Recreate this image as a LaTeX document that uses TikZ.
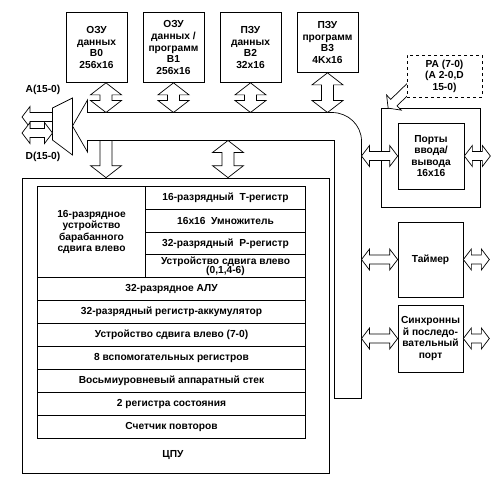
\documentclass[tikz,border=0pt]{standalone}
\usepackage{fontspec}
\setmainfont{Liberation Sans}
\usetikzlibrary{calc}
\newcommand{\blockfont}{\fontsize{10.2}{11.6}\selectfont\bfseries}
\tikzset{
  box/.style={draw,align=center,inner sep=1pt,font=\blockfont},
  cell/.style={draw,align=center,inner sep=0pt,font=\blockfont,minimum height=23},
  bigarr/.code={\def\ahl{12pt}\def\ahw{15.5pt}\def\asw{6pt}},
  smallarr/.code={\def\ahl{8pt}\def\ahw{10.5pt}\def\asw{4.5pt}},
}
% hollow bus arrow, heads at both ends
\newcommand{\dblarrow}[3][bigarr]{\draw[#1,fill=white] (#2)
	-- ($($(#2)!\ahl!(#3)$)!\ahw!90:(#3)$) -- ($($(#2)!\ahl!(#3)$)!\asw!90:(#3)$)
	-- ($($(#3)!\ahl!(#2)$)!\asw!-90:(#2)$) -- ($($(#3)!\ahl!(#2)$)!\ahw!-90:(#2)$) -- (#3)
	-- ($($(#3)!\ahl!(#2)$)!\ahw!90:(#2)$) -- ($($(#3)!\ahl!(#2)$)!\asw!90:(#2)$)
	-- ($($(#2)!\ahl!(#3)$)!\asw!-90:(#3)$) -- ($($(#2)!\ahl!(#3)$)!\ahw!-90:(#3)$) -- cycle;}
% hollow bus arrow, head at #3 only
\newcommand{\onearrow}[3][bigarr]{\draw[#1,fill=white] ($(#2)!\asw!90:(#3)$)
	-- ($($(#3)!\ahl!(#2)$)!\asw!-90:(#2)$) -- ($($(#3)!\ahl!(#2)$)!\ahw!-90:(#2)$) -- (#3)
	-- ($($(#3)!\ahl!(#2)$)!\ahw!90:(#2)$) -- ($($(#3)!\ahl!(#2)$)!\asw!90:(#2)$)
	-- ($(#2)!\asw!-90:(#3)$) -- cycle;}
\begin{document}
\begin{tikzpicture}[x=1pt,y=-1pt,line width=0.7pt]
\useasboundingbox (0,0) rectangle (500,488);

%% memory blocks on top
\node[box,minimum width=61,minimum height=70] (ram0) at (96.5,47.5) {ОЗУ\\данных\\В0\\256x16};
\node[box,minimum width=61,minimum height=70] (ram1) at (173.5,47.5) {ОЗУ\\данных /\\программ\\В1\\256x16};
\node[box,minimum width=61,minimum height=70] (rom2) at (250.5,47.5) {ПЗУ\\данных\\В2\\32x16};
\node[box,minimum width=61,minimum height=60] (rom3) at (327.5,42.5) {ПЗУ\\программ\\В3\\4Kx16};

%% internal bus
\coordinate (bustop) at (0,112.5);
\coordinate (busbot) at (0,140.5);
\coordinate (busright) at (361.5,0);
\draw (87.5,100) -- (87.5,112.5) -- (332,112.5) .. controls (348,112.5) and (361.5,125) .. (361.5,141)
	-- (361.5,398.5) -- (334.5,398.5) -- (334.5,140.5) -- (87.5,140.5) -- (87.5,152) -- (72.5,126) -- cycle;

\coordinate (m0) at ($(ram0.south)+(9.5,0)$);
\coordinate (m1) at (ram1.south);
\coordinate (m2) at (rom2.south);
\coordinate (m3) at (rom3.south);
\foreach \i in {0,...,3}{
	\coordinate (b\i) at (m\i |- bustop);
	\dblarrow{m\i}{b\i}
}

%% address / data multiplexer
\draw (52.5,108) -- (72.5,98) -- (72.5,155) -- (52.5,140) -- cycle;
\coordinate (ain) at (52.5,117);
\coordinate (aout) at (22,117);
\coordinate (din) at (52.5,133);
\coordinate (dout) at (22,133);
\onearrow[smallarr]{ain}{aout}
\dblarrow[smallarr]{din}{dout}
\node[font=\blockfont] (alabel) at (43,90) {A(15-0)};
\node[font=\blockfont] (dlabel) at (43,157) {D(15-0)};

%% CPU
\node[draw,minimum width=307,minimum height=295] (cpu) at (176,325.5) {};
\node[font=\blockfont] (cpulabel) at (173,455) {ЦПУ};
\coordinate (c0) at (m0 |- busbot);
\coordinate (c0e) at (m0 |- cpu.north);
\coordinate (c1) at (228,140.5);
\coordinate (c1e) at (c1 |- cpu.north);
\onearrow{c0}{c0e}
\dblarrow{c1}{c1e}

\node[cell,minimum width=108,minimum height=91] (shifter) at (91.5,232)
	{16-разрядное\\устройство\\барабанного\\сдвига влево};
\foreach \i/\t in {0/{16-разрядный~~Т-регистр},1/{16x16~~Умножитель},2/{32-разрядный~~Р-регистр},
	3/{Устройство сдвига влево\\[-2.5pt](0,1,4-6)}}
	\node[cell,minimum width=160,minimum height=22.75] (reg\i) at (225.5,{197.875+22.75*\i}) {\t};
\foreach \i/\t in {0/32-разрядное АЛУ,1/32-разрядный регистр-аккумулятор,2/{Устройство сдвига влево (7-0)},
	3/8 вспомогательных регистров,4/Восьмиуровневый аппаратный стек,5/2 регистра состояния,6/Счетчик повторов}
	\node[cell,minimum width=268] (row\i) at (171.5,{289+23*\i}) {\t};

%% peripherals
\node[draw,minimum width=99,minimum height=99] (ioframe) at (431,158) {};
\node[box,minimum width=66,minimum height=66] (ports) at (431,156) {Порты\\ввода/\\вывода\\16x16};
\node[box,minimum width=65,minimum height=75] (timer) at (430.5,259.5) {Таймер};
\node[box,minimum width=65,minimum height=67] (serial) at (430.5,338.5) {Синхронны\\й последо-\\вательный\\порт};

\foreach \n in {ports,timer,serial}{
	\coordinate (\n l) at (busright |- \n.west);
	\coordinate (\n r) at ($(\n.east)+(26,0)$);
	\dblarrow[smallarr]{\n l}{\n.west}
	\dblarrow[smallarr]{\n.east}{\n r}
}

\coordinate (pain) at (412,85);
\coordinate (paout) at ($(ioframe.north west)+(7,0)$);
\onearrow[smallarr]{pain}{paout}
\node[box,dashed,fill=white,minimum width=75,minimum height=42] (pa) at (444.5,76) {PA (7-0)\\(A 2-0,D\\15-0)};
\end{tikzpicture}
\end{document}
